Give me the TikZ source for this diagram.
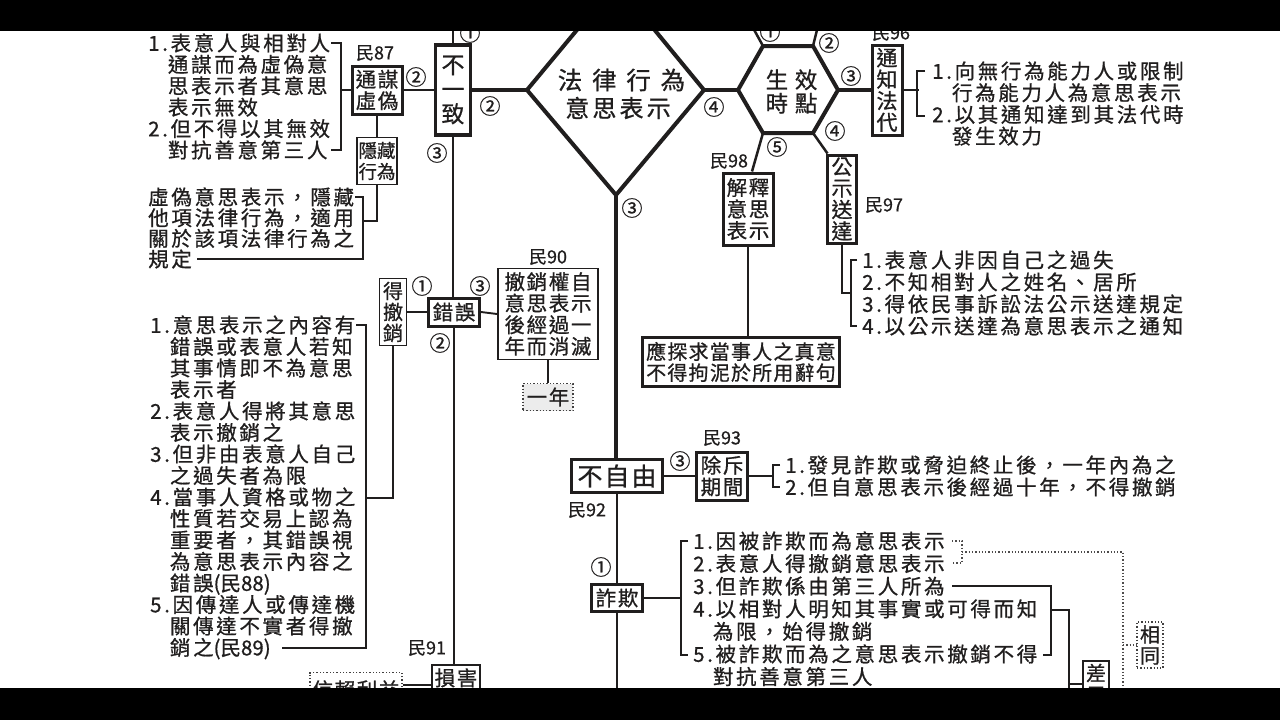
\documentclass[tikz,border=0pt]{standalone}
\usepackage{fontspec}
\setmainfont{Liberation Sans}
\newfontfamily\cjkn[FakeBold=0.8]{Noto Sans CJK TC}
\newfontfamily\cjka[LetterSpace=13,FakeBold=0.8]{Noto Sans CJK TC}
\newfontfamily\cjkb[LetterSpace=8,FakeBold=0.8]{Noto Sans CJK TC}
\newfontfamily\cjkm[LetterSpace=6,FakeBold=0.8]{Noto Sans CJK TC}
\newfontfamily\cjkw[LetterSpace=40,FakeBold=0.8]{Noto Sans CJK TC}
\newfontfamily\cjkh[LetterSpace=30,FakeBold=0.8]{Noto Sans CJK TC}
\usetikzlibrary{calc}
\definecolor{ink}{RGB}{32,30,30}
\newcommand\myind{\phantom{1.}}
\begin{document}
\begin{tikzpicture}[x=1pt,y=-1pt,
 tx/.style={align=left,inner sep=0pt,anchor=base west,text=ink},
 bx/.style={draw=ink,line width=3pt,fill=white,text=ink,align=center,inner sep=0pt,font=\cjkb\fontsize{20.5}{21.5}\selectfont},
 tbx/.style={bx,line width=1.8pt},
 dbx/.style={draw=ink!85,dotted,line width=1.3pt,fill=white,text=ink,align=center,inner sep=0pt,font=\cjkb\fontsize{20.5}{21.5}\selectfont},
 lab/.style={inner sep=0pt,text=ink,font=\cjkn\fontsize{18}{18}\selectfont},
 cn/.style={inner sep=0pt,text=ink,font=\cjkn\fontsize{21}{21}\selectfont},
 ln/.style={draw=ink,line width=1.9pt},
 mln/.style={draw=ink,line width=2.5pt},
 thk/.style={draw=ink,line width=3.4pt},
 dln/.style={draw=ink!80,dotted,line width=1.3pt},
]
\useasboundingbox (0,0) rectangle (1280,720);
\fill[white] (0,0) rectangle (1280,720);

% ---------- diamond and hexagon ----------
\coordinate (dT) at (616,-17);
\coordinate (dL) at (527,90);
\coordinate (dR) at (704,90);
\coordinate (dB) at (616,195);
\draw[draw=ink,line width=4pt,line join=miter] (dT)--(dR)--(dB)--(dL)--cycle;
\node[inner sep=0pt,text=ink,font=\cjkw\fontsize{24.5}{28}\selectfont] (dtx1) at (621.5,80) {法律行為};
\node[inner sep=0pt,text=ink,font=\cjka\fontsize{24}{28}\selectfont] (dtx2) at (618,108) {意思表示};

\coordinate (hL) at (738,90);
\coordinate (hUL) at (763,46);
\coordinate (hUR) at (813,46);
\coordinate (hR) at (838,90);
\coordinate (hLR) at (813,133);
\coordinate (hLL) at (763,133);
\draw[draw=ink,line width=4pt,line join=miter] (hL)--(hUL)--(hUR)--(hR)--(hLR)--(hLL)--cycle;
\node[inner sep=0pt,text=ink,align=center,font=\cjkh\fontsize{22.5}{23.5}\selectfont] (htx) at (791.5,91.5) {生效\\時點};

% ---------- text blocks (anchored at the baseline of the last line) ----------
\node[tx,font=\cjka\fontsize{20.5}{21.4}\selectfont] (tA) at (148,157.8) {1.表意人與相對人\\\myind 通謀而為虛偽意\\\myind 思表示者其意思\\\myind 表示無效\\2.但不得以其無效\\\myind 對抗善意第三人};
\node[tx,font=\cjka\fontsize{20.5}{20.7}\selectfont] (tB) at (148,266.9) {虛偽意思表示，隱藏\\他項法律行為，適用\\關於該項法律行為之\\規定};
\node[tx,font=\cjka\fontsize{20.5}{21.5}\selectfont] (tC) at (150,655.3) {1.意思表示之內容有\\\myind 錯誤或表意人若知\\\myind 其事情即不為意思\\\myind 表示者\\2.表意人得將其意思\\\myind 表示撤銷之\\3.但非由表意人自己\\\myind 之過失者為限\\4.當事人資格或物之\\\myind 性質若交易上認為\\\myind 重要者，其錯誤視\\\myind 為意思表示內容之\\\myind 錯誤{\cjkn(民88)}\\5.因傳達人或傳達機\\\myind 關傳達不實者得撤\\\myind 銷之{\cjkn(民89)}};
\node[tx,font=\cjka\fontsize{20.5}{21.7}\selectfont] (tD) at (932,143.9) {1.向無行為能力人或限制\\\myind 行為能力人為意思表示\\2.以其通知達到其法代時\\\myind 發生效力};
\node[tx,font=\cjka\fontsize{20.5}{22}\selectfont] (tE) at (862,333.8) {1.表意人非因自己之過失\\2.不知相對人之姓名、居所\\3.得依民事訴訟法公示送達規定\\4.以公示送達為意思表示之通知};
\node[tx,font=\cjka\fontsize{20.5}{22}\selectfont] (tF) at (785,494.8) {1.發見詐欺或脅迫終止後，一年內為之\\2.但自意思表示後經過十年，不得撤銷};
\node[tx,font=\cjka\fontsize{20.5}{22.6}\selectfont] (tG) at (693,684.4) {1.因被詐欺而為意思表示\\2.表意人得撤銷意思表示\\3.但詐欺係由第三人所為\\4.以相對人明知其事實或可得而知\\\myind 為限，始得撤銷\\5.被詐欺而為之意思表示撤銷不得\\\myind 對抗善意第三人};

% ---------- boxes ----------
\node[bx,minimum width=50pt,minimum height=48pt] (n87) at (377,90) {通謀\\虛偽};
\node[bx,line width=3.4pt,minimum width=35pt,minimum height=90pt,font=\cjkn\fontsize{23}{24.5}\selectfont] (n1) at (453,90) {不\\一\\致};
\node[tbx,minimum width=40pt,minimum height=47pt,font=\cjkn\fontsize{18.5}{21}\selectfont] (hide) at (377,161) {隱藏\\行為};
\node[tbx,minimum width=27pt,minimum height=67pt,font=\cjkn\fontsize{20}{21}\selectfont] (dcx) at (393,312) {得\\撤\\銷};
\node[bx,minimum width=51pt,minimum height=28pt] (err) at (454,312) {錯誤};
\node[tbx,minimum width=100pt,minimum height=91pt] (rv) at (548,314) {撤銷權自\\意思表示\\後經過一\\年而消滅};
\node[dbx,fill=gray!15,minimum width=50pt,minimum height=27pt] (yr) at (548,397) {一年};
\node[bx,line width=2.6pt,minimum width=48pt,minimum height=40pt,text height=15pt,text depth=13.6pt] (dmg) at (456,685) {損害};
\node[dbx,minimum width=92pt,minimum height=24pt,text height=25pt,text depth=0pt] (trust) at (356,685) {信賴利益};
\node[bx,line width=3.8pt,minimum width=91pt,minimum height=33pt,font=\cjkb\fontsize{25}{26}\selectfont] (unf) at (617,476) {不自由};
\node[bx,minimum width=51pt,minimum height=48pt] (excl) at (722,476) {除斥\\期間};
\node[bx,minimum width=51pt,minimum height=27pt] (frd) at (617,598) {詐欺};
\node[dbx,minimum width=26pt,minimum height=46pt,font=\cjkn\fontsize{20}{21}\selectfont] (same) at (1150,645) {相\\同};
\node[tbx,minimum width=26pt,minimum height=46pt,font=\cjkn\fontsize{20}{22}\selectfont] (diff) at (1096,684) {差\\異};
\node[bx,minimum width=30pt,minimum height=90pt,font=\cjkn\fontsize{21}{21.5}\selectfont] (n96) at (887,90) {通\\知\\法\\代};
\node[bx,minimum width=29pt,minimum height=88pt,font=\cjkn\fontsize{21}{21.5}\selectfont] (pub) at (842,199) {公\\示\\送\\達};
\node[bx,minimum width=50pt,minimum height=72pt] (intp) at (748,209) {解釋\\意思\\表示};
\node[bx,line width=2.6pt,minimum width=197pt,minimum height=49pt,font=\cjkm\fontsize{20}{21}\selectfont] (seek) at (741,362) {應探求當事人之真意\\不得拘泥於所用辭句};

% ---------- labels ----------
\node[lab] (l87) at (375,53) {民87};
\node[lab] (l90) at (548,257) {民90};
\node[lab] (l91) at (427,648) {民91};
\node[lab] (l92) at (587,510) {民92};
\node[lab] (l93) at (722,438) {民93};
\node[lab] (l96) at (891,33) {民96};
\node[lab] (l97) at (884,205) {民97};
\node[lab] (l98) at (729,161) {民98};

% ---------- circled numbers ----------
\node[cn] (c1) at (470,33) {①};
\node[cn] (c2) at (416,77) {②};
\node[cn] (c3) at (490,106) {②};
\node[cn] (c4) at (437,153) {③};
\node[cn] (c5) at (422,286) {①};
\node[cn] (c6) at (440,343) {②};
\node[cn] (c7) at (480,286) {③};
\node[cn] (c8) at (632,208) {③};
\node[cn] (c9) at (714,107) {④};
\node[cn] (c10) at (770,32) {①};
\node[cn] (c11) at (829,43) {②};
\node[cn] (c12) at (851,76) {③};
\node[cn] (c13) at (835,131) {④};
\node[cn] (c14) at (777,147) {⑤};
\node[cn] (c15) at (680,461) {③};
\node[cn] (c16) at (601,567) {①};

% ---------- connectors ----------
\coordinate (n1top) at (453,26);
\coordinate (hTL) at (752,26);
\coordinate (hTR) at (818,26);
\draw[mln] (n1.north) -- (n1top);
\draw[mln] (hUL) -- (hTL);
\draw[mln] (hUR) -- (hTR);
\draw[thk] (n1.east) -- (dL);
\draw[thk] (dR) -- (hL);
\draw[thk] (hR) -- (n96.west);
\draw[mln] (n87.east) -- (n1.west);
\draw[ln] (n87.south) -- (hide.north);
\draw[draw=ink,line width=3.8pt] (dB) -- (dB |- unf.north);
\draw[mln] (unf.south) -- (frd.north);
\coordinate (bot) at (617,720);
\draw[mln] (frd.south) -- (bot);
\draw[mln] (unf.east) -- (excl.west);
\draw[mln] (n1.south) -- (n1.south |- err.north);
\draw[mln] (err.south) -- (err.south |- dmg.north);
\draw[ln] (dcx.east) -- (err.west);
\draw[ln] (err.east) -- (rv.west);
\draw[ln] (rv.south) -- (yr.north);
\draw[ln] (trust.east) -- (dmg.west);
\draw[mln] (hLR) -- ($(pub.north west)+(1.5,0)$);
\draw[mln] (hLL) -- ($(intp.north)+(4,0)$);
\draw[ln] (intp.south) -- (intp.south |- seek.north);

% brackets
\coordinate (aT) at (331,43);
\coordinate (aB) at (331,150);
\draw[ln] (aT) -- ++(10,0) |- (aB);
\draw[ln] (n87.west) -- ++(-11,0);
\coordinate (bT) at (355,197);
\coordinate (bB) at (197,259);
\coordinate (bJ) at (363,221);
\draw[ln] (bT) -- ++(8,0) |- (bB);
\draw[ln] (hide.south) |- (bJ);
\coordinate (cT) at (356,325);
\coordinate (cB) at (282,648);
\coordinate (cJ) at (366,498);
\draw[ln] (cT) -- ++(10,0) |- (cB);
\draw[ln] (dcx.south) |- (cJ);
\coordinate (qT) at (925,71);
\coordinate (qB) at (925,116);
\draw[ln] (qT) -- ++(-8,0) |- (qB);
\draw[ln] (n96.east) -- ++(15,0);
\coordinate (eT) at (857,260);
\coordinate (eB) at (857,326);
\coordinate (eJ) at (851,293);
\draw[ln] (eT) -- ++(-6,0) |- (eB);
\draw[ln] (pub.south) |- (eJ);
\coordinate (fT) at (780,465);
\coordinate (fB) at (780,487);
\draw[ln] (fT) -- ++(-7,0) |- (fB);
\draw[ln] (excl.east) -- ++(25,0);
\coordinate (gT) at (688,541);
\coordinate (gB) at (688,655);
\draw[ln] (gT) -- ++(-7,0) |- (gB);
\draw[ln] (frd.east) -- ++(38,0);
% dotted "same" bracket
\coordinate (sT) at (952,541);
\coordinate (sB) at (952,563);
\coordinate (sM) at (962,552);
\coordinate (sC) at (1123,552);
\coordinate (sD) at (1123,720);
\coordinate (sJ) at (1123,645);
\draw[dln] (sT) -- ++(10,0) |- (sB);
\draw[dln] (sM) -- (sC) -- (sD);
\draw[dln] (sJ) -- (same.west);
% solid "diff" bracket
\coordinate (kT) at (952,586);
\coordinate (kB) at (1043,655);
\coordinate (kM) at (1051,610);
\coordinate (kC) at (1069,610);
\coordinate (kD) at (1069,720);
\coordinate (kJ) at (1069,684);
\draw[ln] (kT) -| (kB -| kM) -- (kB);
\draw[ln] (kM) -- (kC) -- (kD);
\draw[ln] (kJ) -- (diff.west);

% ---------- black bars ----------
\fill[black] (0,0) rectangle (1280,30.5);
\fill[black] (0,687.5) rectangle (1280,720);
\end{tikzpicture}
\end{document}
